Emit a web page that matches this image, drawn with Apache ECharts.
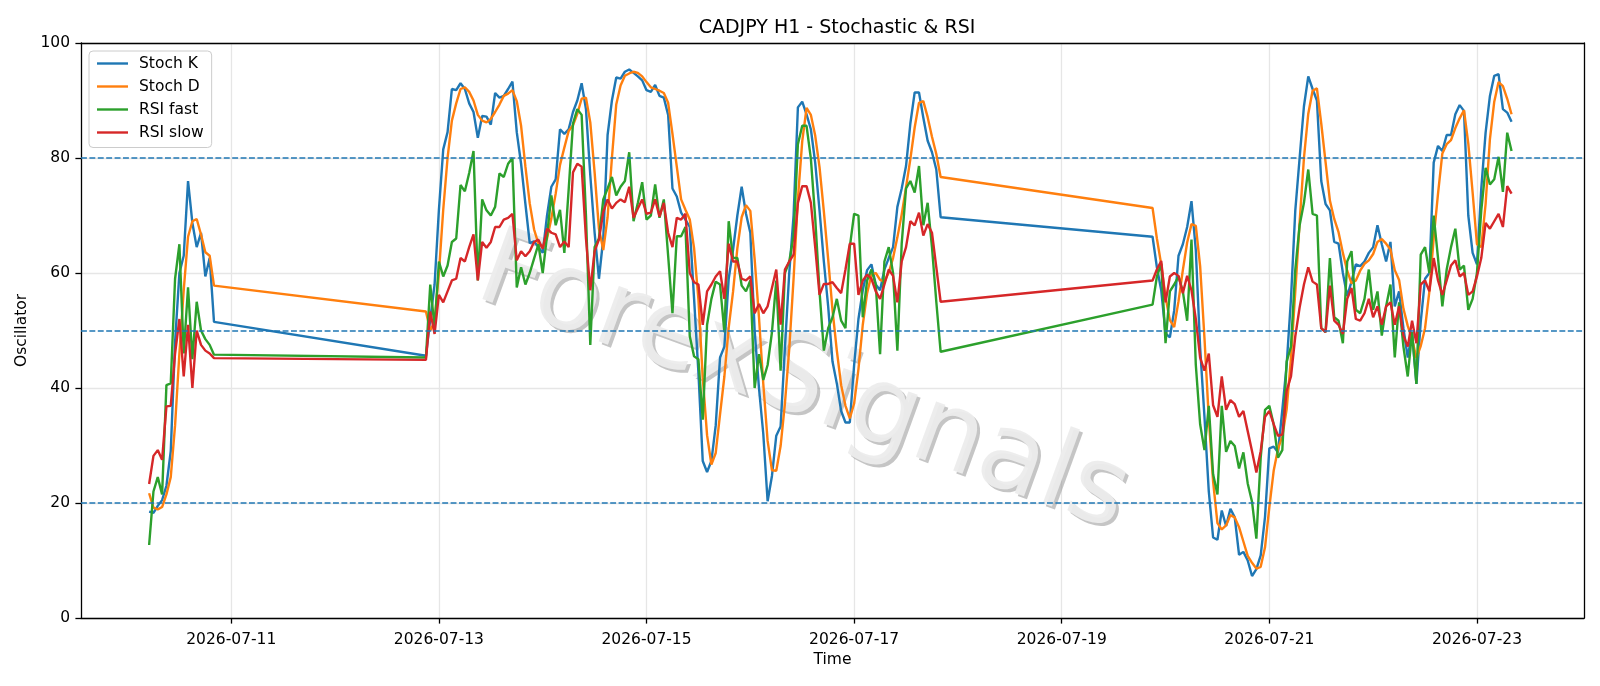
<!DOCTYPE html>
<html style="height: 100%">

<head>
    <meta charset="UTF-8">
    <title>CADJPY H1 - Stochastic & RSI</title>
    <script src="https://cdn.jsdelivr.net/npm/echarts@6/dist/echarts.min.js"></script>
</head>

<body style="height: 100%; margin: 0; background: #fff">
    <div id="main" style="width: 1600px; height: 686px;"></div>

    <script>
        // trading sessions: first hourly bar (local time) and number of bars
        var sessions = [
            ['2026-07-10T05:00', 16],
            ['2026-07-12T21:00', 120],
            ['2026-07-19T21:00', 84]
        ];
        var tickDays = ['2026-07-11', '2026-07-13', '2026-07-15', '2026-07-17', '2026-07-19', '2026-07-21', '2026-07-23'];
        var levels = [20, 50, 80];

        var stochK = [
            // 07-10
            18.5, 18.3, 19.5, 20.5, 23, 29, 48, 60, 63, 76, 68.7, 64.5, 67, 59.4, 62.6, 51.5,
            // 07-12 21:00 -> 07-17
            45.6, 52, 58, 71, 81.5, 84.5, 92, 91.8, 93, 92, 89.5, 88, 83.5, 87.3, 87.2, 85.8, 91.3, 90.5, 90.8, 92,
            93.3, 84.5, 79, 72, 65.2, 65.5, 64.5, 63.5, 70, 75, 76.3, 85, 84.2, 85, 88, 90, 93, 88.5, 77, 67,
            59, 66, 84, 90, 94, 93.8, 95, 95.4, 94.8, 94.2, 93.5, 91.8, 91.5, 92.7, 90.8, 90.5, 87.5, 74.7, 73.3, 70.5,
            69.3, 68, 55.5, 42.7, 27.3, 25.4, 27.3, 33.5, 45.3, 47.2, 59, 64, 70, 75, 70.3, 67, 50, 40, 32, 20.3,
            24.7, 31.7, 33.3, 47, 60, 70, 88.8, 89.8, 87.6, 85, 79.2, 70.9, 62, 54.2, 44.6, 40.8, 36, 34, 34, 44,
            52, 57, 60.5, 61.5, 58, 57, 60.6, 62.6, 64.5, 71.5, 74.7, 78.6, 86, 91.4, 91.4, 87, 83, 81, 78, 69.7,
            // 07-19 21:00 -> 07-23
            66.3, 61, 57, 49.5, 48.8, 53.5, 63, 65, 68, 72.5, 64, 47, 35, 22, 14, 13.6, 18.7, 16, 19, 17.5,
            11, 11.5, 10, 7.3, 8.5, 10.9, 17.6, 29.5, 29.8, 28.8, 36.2, 44, 55.5, 70.9, 80, 89, 94.2, 92, 90, 76,
            72, 70.9, 65.4, 65.1, 60, 56, 58.5, 61.5, 61.2, 62, 63.5, 64.5, 68.3, 65, 62, 65.4, 54.2, 56.8, 50.4, 45.3,
            49.7, 40.7, 51.5, 59, 60, 79.2, 82.1, 81.2, 84, 84, 87.6, 89.2, 88.2, 70, 63.5, 61.5, 74.7, 84.4, 90.8, 94.3,
            94.6, 88.5, 87.9, 86.3
        ];

        var stochD = [
            21.7, 19.2, 18.9, 19.3, 21.5, 24.5, 33.5, 46, 57, 66.3, 69, 69.4, 66.7, 63.6, 63, 57.8,
            53.3, 50, 51.5, 60, 71, 80, 86.5, 89.5, 92, 92.3, 91.5, 90, 87.5, 86.5, 86.2, 86.8, 88, 89.3, 90.8, 91.2,
            91.8, 89.9, 85.6, 78.5, 72.1, 67.6, 65.1, 64.5, 66, 69.5, 73.8, 78.8, 81.8, 84.7, 85.7, 87.7, 90.3, 90.5, 86.2, 77.5,
            67.7, 64, 69.7, 80, 89.3, 92.6, 94.3, 94.7, 95, 94.8, 94.2, 93.2, 92.3, 92, 91.7, 91.3, 89.6, 84.2, 78.5, 72.8,
            71, 69.3, 64.3, 55.4, 41.8, 31.8, 26.7, 28.7, 35.4, 42, 50.5, 56.7, 64.3, 69.7, 71.8, 70.8, 62.4, 52.3, 40.7, 30.8,
            25.7, 25.6, 29.9, 37.3, 46.8, 59, 72.9, 82.9, 88.7, 87.5, 83.9, 78.4, 70.7, 62.4, 53.6, 46.5, 40.5, 36.9, 34.7, 37.3,
            43.3, 51, 56.5, 59.7, 60, 58.8, 58.5, 60.1, 62.6, 66.2, 70.2, 74.9, 79.8, 85.3, 89.6, 89.9, 87.1, 83.7, 80.7, 76.7,
            71.3, 66, 61.5, 55.8, 51.8, 50.6, 55.1, 60.5, 65.3, 68.5, 68.2, 61.2, 48.7, 34.7, 23.7, 16.5, 15.4, 16.1, 17.9, 17.5,
            15.8, 13.3, 10.8, 9.6, 8.6, 8.9, 12.3, 19.3, 25.6, 29.4, 31.6, 36.3, 45.2, 56.8, 68.8, 80, 87.7, 91.7, 92.1, 86,
            79.3, 72.6, 69.4, 67.1, 63.5, 60.4, 58.2, 58.7, 60.4, 61.6, 62.2, 63.3, 65.4, 65.9, 65.1, 64.1, 60.5, 58.8, 53.8, 50.8,
            48.5, 45.2, 47.3, 50.4, 56.8, 66.1, 73.8, 80.8, 82.4, 83.1, 85.2, 86.9, 88.3, 82.5, 74, 65, 64.5, 72, 83.3, 89.8,
            93.2, 92.5, 90.3, 87.6
        ];

        var rsiFast = [
            12.7, 22, 24.5, 21.5, 40.5, 40.8, 59, 65, 46, 57.5, 45, 55, 50, 48.5, 47.5, 45.8,
            45.3, 58, 50.5, 62, 59.4, 61.3, 65.4, 66, 75.3, 74.2, 77.4, 81.2, 58.7, 72.8, 70.9, 70, 71.5, 77.3, 76.7, 79,
            80, 57.5, 61, 58, 60, 62.5, 65, 60, 66.5, 73.5, 68.3, 71, 63.5, 74.5, 86, 88.5, 87.5, 70, 47.5, 64.5,
            66, 72.8, 74.7, 76.7, 73.5, 75, 76, 81, 69, 72.2, 75.8, 69.3, 70, 75.4, 69.6, 72.8, 63, 53, 66.4, 66.4,
            68, 49, 45.5, 45, 34.5, 51, 55.5, 58.5, 58, 49.7, 69, 62.6, 62.6, 57.8, 56.8, 58.7, 40, 45.9, 41.4, 44,
            49.7, 58.7, 43, 60, 62, 66.4, 82.4, 85.6, 85.6, 79.9, 69.6, 56.8, 46.5, 50.4, 52.3, 55.5, 51.7, 50.4, 64.5, 70.3,
            70, 52.3, 58.7, 60.6, 58, 45.9, 62, 64.5, 60, 46.5, 65.1, 74.7, 76, 74, 78.6, 68.3, 72.2, 64.5, 55, 46.3,
            54.5, 59.4, 61.6, 47.8, 56.8, 58, 59.4, 56.8, 51.7, 65.8, 44, 33.7, 29.2, 36.9, 25, 21.5, 36.9, 28.9, 30.8, 29.9,
            26, 28.8, 23.4, 20.2, 13.8, 27.9, 36.2, 36.9, 33.7, 27.9, 29.2, 44.6, 47.2, 60.6, 68.3, 72.2, 78, 70.3, 70, 50.4,
            49.7, 62.6, 52.3, 51.7, 47.8, 62, 63.8, 53.6, 53, 55.5, 60.6, 53.6, 56.8, 49.1, 54.2, 58, 45.3, 54.9, 47.2, 42,
            49.7, 40.7, 63.2, 64.5, 60, 70, 62.6, 54.2, 60.6, 64.5, 67.7, 60.6, 61.3, 53.6, 55.5, 60, 70.9, 78.3, 75.4, 76.3,
            80.2, 74.1, 84.4, 81.2
        ];

        var rsiSlow = [
            23.3, 28.2, 29.2, 27.5, 36.8, 36.9, 46, 52, 42, 51, 40, 50, 47.5, 46.5, 46, 45.2,
            44.9, 53.3, 49.4, 56.2, 54.9, 56.8, 58.7, 59, 62.6, 62, 64.5, 66.7, 58.7, 65.4, 64.4, 65.4, 68, 68, 69.3, 69.6,
            70.3, 62.2, 63.8, 62.9, 63.8, 65.4, 65.8, 64.2, 67.7, 67, 66.7, 64.5, 65.5, 64.5, 77.5, 79, 78.5, 66, 57, 63.8,
            65.8, 70.6, 72.8, 71.2, 72.2, 72.8, 72.3, 75, 69.6, 71.2, 72.8, 70.3, 70.5, 72.8, 69.8, 72.2, 67, 64.5, 69.6, 69.3,
            70.3, 60, 58.4, 58, 51, 56.8, 58, 59.4, 60.3, 55.5, 65.1, 62, 62, 59, 58.7, 59.4, 53, 54.6, 53, 54.2,
            57.4, 60.6, 51, 60.6, 62, 63.2, 72.2, 75.1, 75.1, 72.2, 64.5, 56.2, 58.1, 58.1, 58.4, 57.4, 56.5, 60.6, 65.1, 65.1,
            56.2, 58.7, 59.7, 59, 56.8, 55.5, 58, 60.6, 59.5, 54.9, 62, 64.5, 69, 68.3, 70.5, 66.5, 68.5, 67, 61, 55,
            58.7, 60.6, 62.1, 54.9, 59.4, 60, 59.5, 56.5, 59.5, 57, 52, 45.3, 43, 46, 37, 35, 42, 36.2, 37.9, 37.2,
            35, 36, 32.5, 29, 25.3, 29, 35, 36, 33.7, 31.7, 31.9, 39.5, 42, 49, 54, 58, 61, 58.5, 58, 50.4,
            49.7, 57.8, 51.7, 51, 49.4, 55.5, 57.4, 52, 51.7, 53, 55.5, 52.3, 54.2, 51, 54.2, 54.9, 51, 54.2, 49.1, 47.2,
            51.7, 47.8, 58, 58.7, 56.8, 62.6, 58.7, 56.2, 58.7, 61.3, 62.2, 59.4, 60, 56.2, 56.8, 59.4, 62.6, 68.7, 67.7, 69,
            70.3, 68, 75.1, 73.8
        ];

        // hourly timestamps of every bar
        var times = [];
        sessions.forEach(function (s) {
            var t0 = new Date(s[0]).getTime();
            for (var i = 0; i < s[1]; i++) {
                times.push(t0 + i * 3600 * 1000);
            }
        });
        var tickValues = tickDays.map(function (d) { return new Date(d + 'T00:00').getTime(); });
        var xMin = new Date('2026-07-09T13:15').getTime();
        var xMax = new Date('2026-07-24T00:45').getTime();

        function pairs(vals) {
            return vals.map(function (v, i) { return [times[i], v]; });
        }
        function pad(n) { return n < 10 ? '0' + n : '' + n; }
        function fmtDay(v) {
            var d = new Date(v);
            return d.getFullYear() + '-' + pad(d.getMonth() + 1) + '-' + pad(d.getDate());
        }

        var font = 'DejaVu Sans';
        var myChart = echarts.init(document.getElementById('main'), null, { renderer: 'canvas' });

        function lineSeries(name, vals, color) {
            return {
                name: name,
                type: 'line',
                data: pairs(vals),
                symbol: 'none',
                showSymbol: false,
                z: 3,
                lineStyle: { width: 2.4, color: color },
                itemStyle: { color: color },
                emphasis: { disabled: true },
                animation: false
            };
        }

        var series = [
            lineSeries('Stoch K', stochK, '#1f77b4'),
            lineSeries('Stoch D', stochD, '#ff7f0e'),
            lineSeries('RSI fast', rsiFast, '#2ca02c'),
            lineSeries('RSI slow', rsiSlow, '#d62728')
        ];
        // overbought / middle / oversold levels
        series[3].markLine = {
            silent: true,
            symbol: 'none',
            animation: false,
            label: { show: false },
            lineStyle: { color: '#1f77b4', type: [5.9, 2.5], width: 1.6 },
            data: levels.map(function (l) { return { yAxis: l }; })
        };

        // watermark: a grey shadow copy and a light copy on top of it
        function watermark(dx, dy, color) {
            return {
                type: 'text',
                x: 803 + dx,
                y: 386 + dy,
                rotation: -20 * Math.PI / 180,
                silent: true,
                z: 1,
                style: {
                    text: 'ForexSignals',
                    fontFamily: font,
                    fontSize: 108,
                    align: 'center',
                    verticalAlign: 'middle',
                    textAlign: 'center',
                    textVerticalAlign: 'middle',
                    fill: color
                }
            };
        }

        var option = {
            backgroundColor: '#ffffff',
            animation: false,
            title: {
                text: 'CADJPY H1 - Stochastic & RSI',
                left: 832,
                top: 14,
                textAlign: 'center',
                textStyle: { fontFamily: font, fontSize: 19, fontWeight: 'normal', color: '#000' }
            },
            legend: {
                orient: 'vertical',
                left: 89,
                top: 51,
                z: 10,
                icon: 'rect',
                itemWidth: 31,
                itemHeight: 2.4,
                itemGap: 7,
                padding: [4.5, 8, 7, 8],
                backgroundColor: 'rgba(255,255,255,0.8)',
                borderColor: '#cccccc',
                borderWidth: 1,
                borderRadius: 4,
                textStyle: { fontFamily: font, fontSize: 15.5, color: '#000', padding: [0, 0, 0, 6] },
                data: ['Stoch K', 'Stoch D', 'RSI fast', 'RSI slow']
            },
            grid: { left: 81, top: 43, width: 1503, height: 575, containLabel: false },
            xAxis: [{
                type: 'value',
                min: xMin,
                max: xMax,
                name: 'Time',
                nameLocation: 'middle',
                nameGap: 30,
                nameTextStyle: { fontFamily: font, fontSize: 15.5, color: '#000' },
                axisLine: { show: true, onZero: false, lineStyle: { color: '#000', width: 1.3 } },
                axisTick: { show: true, length: 5.6, lineStyle: { color: '#000', width: 1.3 }, customValues: tickValues },
                axisLabel: { customValues: tickValues, formatter: fmtDay, fontFamily: font, fontSize: 15.5, color: '#000', margin: 13.5 },
                splitLine: { show: true, lineStyle: { color: '#e6e6e6', width: 1.3 } }
            }, {
                type: 'value',
                position: 'top',
                min: xMin,
                max: xMax,
                axisLine: { show: true, onZero: false, lineStyle: { color: '#000', width: 1.3 } },
                axisTick: { show: false },
                axisLabel: { show: false },
                splitLine: { show: false }
            }],
            yAxis: [{
                type: 'value',
                min: 0,
                max: 100,
                interval: 20,
                name: 'Oscillator',
                nameLocation: 'middle',
                nameGap: 45,
                nameTextStyle: { fontFamily: font, fontSize: 15.5, color: '#000' },
                axisLine: { show: true, onZero: false, lineStyle: { color: '#000', width: 1.3 } },
                axisTick: { show: true, length: 5.6, lineStyle: { color: '#000', width: 1.3 } },
                axisLabel: { fontFamily: font, fontSize: 15.5, color: '#000', margin: 11 },
                splitLine: { show: true, lineStyle: { color: '#e6e6e6', width: 1.3 } }
            }, {
                type: 'value',
                position: 'right',
                min: 0,
                max: 100,
                axisLine: { show: true, onZero: false, lineStyle: { color: '#000', width: 1.3 } },
                axisTick: { show: false },
                axisLabel: { show: false },
                splitLine: { show: false }
            }],
            graphic: [
                watermark(3, 3, 'rgba(150,150,150,0.55)'),
                watermark(0, 0, 'rgba(236,236,236,0.95)')
            ],
            series: series
        };

        myChart.setOption(option);
    </script>
</body>

</html>
